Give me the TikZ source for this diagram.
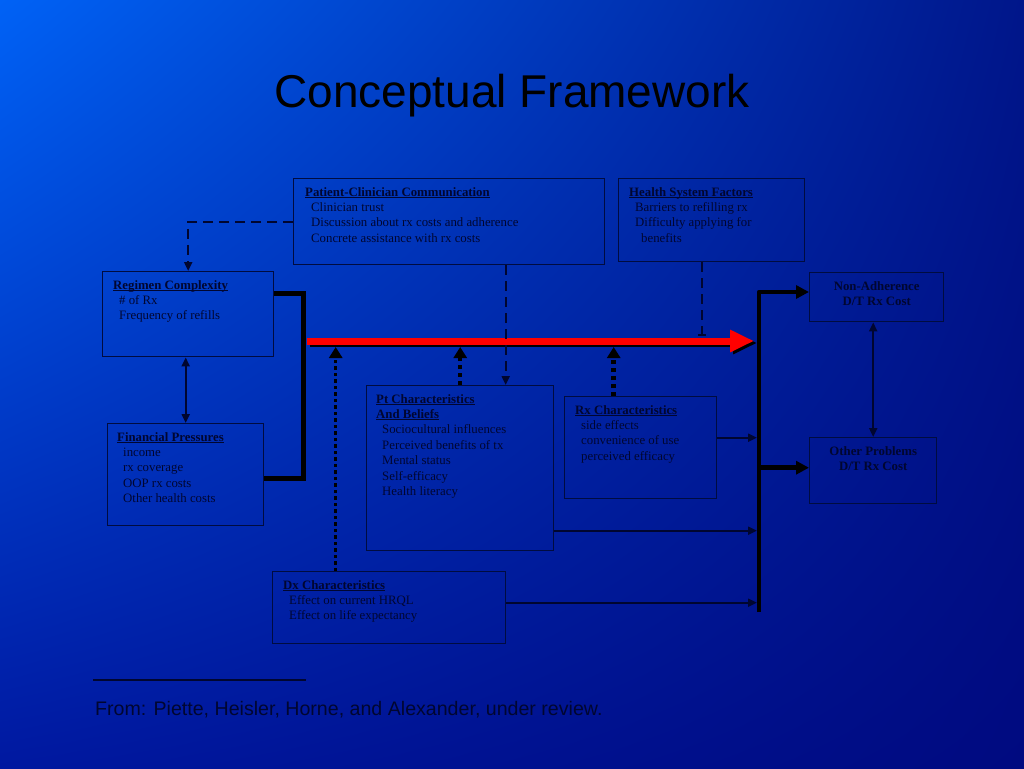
\documentclass[tikz,border=0pt]{standalone}
\usepackage{fontspec}
\setmainfont{Liberation Serif}
\newfontfamily\headfont{Liberation Sans}
\usetikzlibrary{arrows.meta,shadings}
\definecolor{bgul}{HTML}{0062F6}
\definecolor{bgur}{HTML}{00168A}
\definecolor{bgll}{HTML}{0018A0}
\definecolor{bglr}{HTML}{000A80}
\definecolor{ink}{HTML}{000630}
\definecolor{frame}{HTML}{000C40}
\definecolor{alarm}{HTML}{FF0000}
\newsavebox{\hdbox}
\newcommand{\hd}[1]{\sbox{\hdbox}{\textbf{#1}}\usebox{\hdbox}\llap{\rule[-1.8pt]{\wd\hdbox}{0.9pt}}}
\newcommand{\indnt}{\hspace*{6pt}}

\begin{document}
\begin{tikzpicture}[x=1pt, y=-1pt,
    box/.style={draw=frame, line width=1.4pt, anchor=north west, inner sep=0pt},
    boxtext/.style={anchor=north west, align=left, inner sep=0pt, xshift=11pt, yshift=-9pt,
        text=ink, font=\fontsize{12.8}{15.4}\selectfont},
    outtext/.style={anchor=north, align=center, inner sep=0pt, yshift=-9pt,
        text=ink, font=\bfseries\fontsize{12.8}{15.4}\selectfont},
    dashlink/.style={draw=ink, line width=2pt, dash pattern=on 10pt off 6pt},
    thintip/.tip={Triangle[length=9pt,width=8pt]},
    thinlink/.style={draw=ink, line width=2pt},
    heavy/.style={draw=black, line width=4.5pt},
    dotlink/.style={draw=black, line width=4.5pt, dash pattern=on 4pt off 4pt,
        -{Triangle[length=11pt,width=13pt]}}
]
    \shade[upper left=bgul, upper right=bgur, lower left=bgll, lower right=bglr] (0,0) rectangle (1024,768);

    \node[font=\headfont\fontsize{46}{50}\selectfont, text=black, anchor=base] (title) at (512,107) {Conceptual Framework};

    % boxes
    \node[box, minimum width=311pt, minimum height=86pt, label={[boxtext, xshift=1pt]north west:{\hd{Patient-Clinician Communication}\\
        \indnt Clinician trust\\ \indnt Discussion about rx costs and adherence\\ \indnt Concrete assistance with rx costs}}] (pcc) at (293,178) {};
    \node[box, minimum width=186pt, minimum height=83pt, label={[boxtext]north west:{\hd{Health System Factors}\\
        \indnt Barriers to refilling rx\\ \indnt Difficulty applying for\\ \indnt\indnt benefits}}] (hsf) at (618,178) {};
    \node[box, minimum width=171pt, minimum height=85pt, label={[boxtext]north west:{\hd{Regimen Complexity}\\
        \indnt \# of Rx\\ \indnt Frequency of refills}}] (rc) at (102,271) {};
    \node[box, minimum width=156pt, minimum height=102pt, label={[boxtext, xshift=-1pt]north west:{\hd{Financial Pressures}\\
        \indnt income\\ \indnt rx coverage\\ \indnt OOP rx costs\\ \indnt Other health costs}}] (fp) at (107,423) {};
    \node[box, minimum width=187pt, minimum height=165pt, label={[boxtext, xshift=-1pt]north west:{\hd{Pt Characteristics}\\ \hd{And Beliefs}\\
        \indnt Sociocultural influences\\ \indnt Perceived benefits of tx\\ \indnt Mental status\\ \indnt Self-efficacy\\ \indnt Health literacy}}] (pt) at (366,385) {};
    \node[box, minimum width=152pt, minimum height=102pt, label={[boxtext]north west:{\hd{Rx Characteristics}\\
        \indnt side effects\\ \indnt convenience of use\\ \indnt perceived efficacy}}] (rx) at (564,396) {};
    \node[box, minimum width=233pt, minimum height=72pt, label={[boxtext]north west:{\hd{Dx Characteristics}\\
        \indnt Effect on current HRQL\\ \indnt Effect on life expectancy}}] (dx) at (272,571) {};
    \node[box, minimum width=134pt, minimum height=49pt, label={[outtext]north:{Non-Adherence\\ D/T Rx Cost}}] (na) at (809,272) {};
    \node[box, minimum width=127pt, minimum height=66pt, label={[outtext]north:{Other Problems\\ D/T Rx Cost}}] (op) at (809,437) {};

    % main pathway
    \coordinate (redtail) at (307,341);
    \coordinate (redtip) at (754,341);
    \coordinate (redtop) at (307,336);
    \coordinate (redbot) at (307,347);
    \coordinate (bartop) at (759,292);
    \coordinate (barbot) at (759,612);
    \draw[heavy] ([yshift=20.5pt]rc.east) -- ++(29,0) |- ([yshift=-4pt]fp.east);
    \draw[heavy, line width=7pt, -{Triangle[length=24pt,width=21pt]}] ([xshift=3pt,yshift=-2pt]redtail) -- ([xshift=3pt,yshift=-2pt]redtip);
    \draw[draw=alarm, line width=7pt, -{Triangle[length=24pt,width=21pt]}] (redtail) -- (redtip);
    \draw[heavy, line join=round, -{Triangle[length=13pt,width=13pt]}] (barbot) -- (bartop) -- (bartop -| na.west);
    \coordinate (op-in) at ([yshift=3pt]op.west);
    \draw[heavy, -{Triangle[length=13pt,width=13pt]}] (bartop |- op-in) -- (op-in);

    % dashed links
    \draw[dashlink, -{thintip}] (pcc.west) -| (rc.north);
    \coordinate (pcc-out) at ([xshift=56.5pt]pcc.south);
    \draw[dashlink, -{thintip}] (pcc-out) -- (pcc-out |- pt.north);
    \coordinate (hsf-out) at ([xshift=-10pt]hsf.south);
    \draw[dashlink, -{Bar[width=8pt]}] (hsf-out) -- (hsf-out |- redtop);

    % dotted links
    \coordinate (dx-up) at ([xshift=-53.5pt]dx.north);
    \draw[dotlink, line width=3.5pt, dash pattern=on 3.5pt off 3pt] (dx-up) -- (dx-up |- redbot);
    \draw[dotlink] (pt.north) -- (pt.north |- redbot);
    \coordinate (rx-up) at ([xshift=-27pt]rx.north);
    \draw[dotlink] (rx-up) -- (rx-up |- redbot);

    % thin links into the bar
    \coordinate (rx-out) at ([yshift=10pt]rx.east);
    \coordinate (pt-out) at ([yshift=-62.5pt]pt.east);
    \coordinate (dx-out) at ([yshift=5pt]dx.east);
    \foreach \src in {rx-out, pt-out, dx-out}
        \draw[thinlink, -{thintip}, shorten >=2pt] (\src) -- (\src -| bartop);
    \draw[thinlink, {thintip}-{thintip}] (fp.north |- rc.south) -- (fp.north);
    \draw[thinlink, {thintip}-{thintip}] (op.north |- na.south) -- (op.north);

    % source
    \draw[ink, line width=2.5pt] (93,680) -- (306,680);
    \node[font=\headfont\fontsize{19.6}{22}\selectfont, text=ink, anchor=base west, inner sep=0pt] (source) at (95,715)
        {From: Piette, Heisler, Horne, and Alexander, under review.};
\end{tikzpicture}
\end{document}
